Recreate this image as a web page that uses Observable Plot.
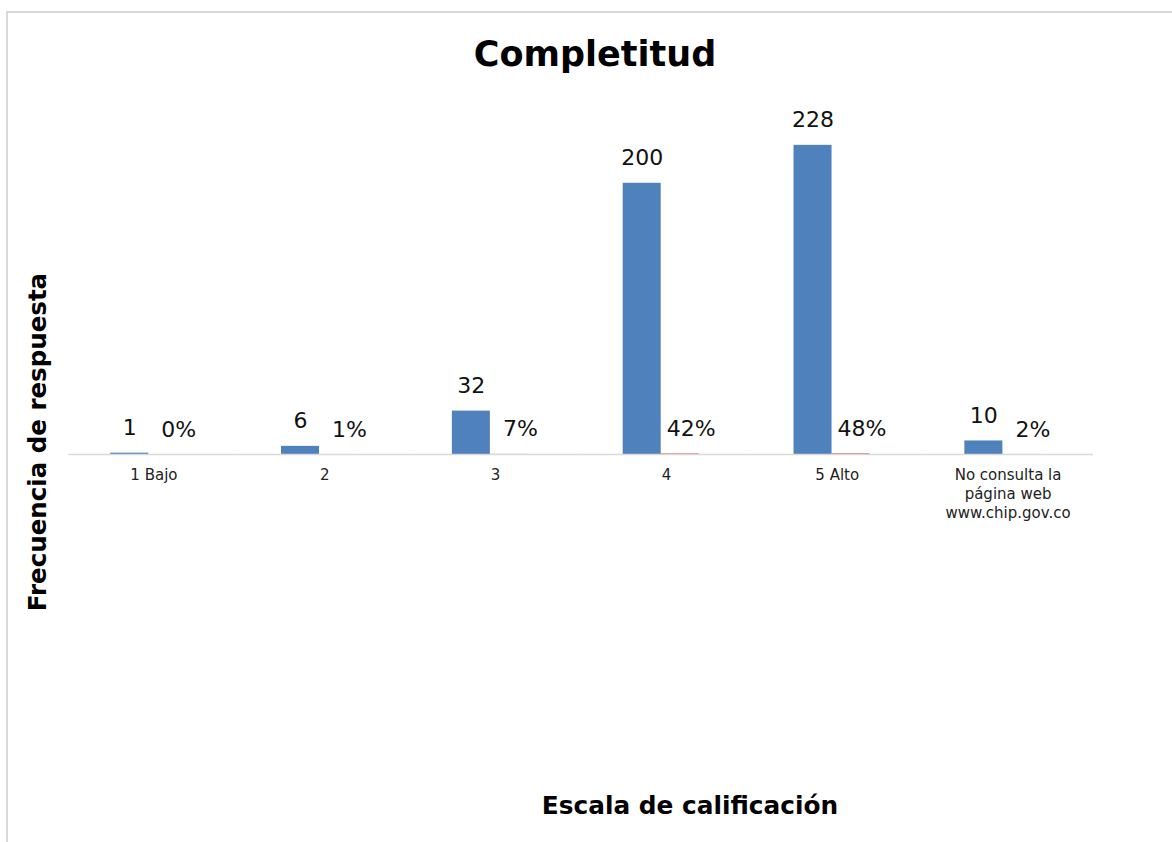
<!DOCTYPE html>
<html>
<head>
<meta charset="utf-8">
<script src="https://cdn.jsdelivr.net/npm/d3@7"></script>
<script src="https://cdn.jsdelivr.net/npm/@observablehq/plot@0.6"></script>
<style>
  body { margin: 0; background: #fff; overflow: hidden; font-family: "DejaVu Sans", sans-serif; }
  #wrap { position: relative; width: 1172px; height: 842px; overflow: hidden; }
  #frame { position: absolute; left: 6px; top: 11px; width: 1300px; height: 1000px; border: 2px solid #d9d9d9; box-sizing: border-box; }
  #chart { position: absolute; left: 0; top: 0; }
  #title { position: absolute; left: 0; width: 1190px; top: 37px; line-height: 1; text-align: center; font-weight: 700; font-size: 35px; color: #000; }
  #ylab { position: absolute; left: 38px; top: 442px; transform: translate(-50%, -50%) rotate(-90deg); white-space: nowrap; font-weight: 700; font-size: 24.5px; color: #000; line-height: 1; }
  #xlab { position: absolute; left: 690px; top: 806px; transform: translate(-50%, -50%); white-space: nowrap; font-weight: 700; font-size: 24.8px; color: #000; line-height: 1; }
</style>
</head>
<body>
<div id="wrap">
  <div id="frame"></div>
  <div id="chart"></div>
  <div id="title">Completitud</div>
  <div id="ylab">Frecuencia de respuesta</div>
  <div id="xlab">Escala de calificación</div>
</div>
<script>
const categories = ["1 Bajo", "2", "3", "4", "5 Alto", "No consulta la página web www.chip.gov.co"];
const tickLabels = ["1 Bajo", "2", "3", "4", "5 Alto", "No consulta la\npágina web\nwww.chip.gov.co"];
const counts = [1, 6, 32, 200, 228, 10];
const percents = [0, 1, 7, 42, 48, 2];
const seriesNames = ["Frecuencia", "Porcentaje"];

const rows = categories.flatMap((c, i) => [
  { cat: c, series: seriesNames[0], value: counts[i], label: String(counts[i]) },
  { cat: c, series: seriesNames[1], value: percents[i] / 100, label: percents[i] + "%" }
]);
const ticks = categories.map((c, i) => ({ cat: c, label: tickLabels[i] }));

const chart = Plot.plot({
  width: 1172,
  height: 842,
  marginTop: 115,
  marginBottom: 388,
  marginLeft: 68,
  marginRight: 79,
  style: { fontFamily: "'DejaVu Sans', sans-serif", background: "transparent", overflow: "visible" },
  fx: { domain: categories, padding: 0, round: false, axis: null, label: null },
  x: { domain: seriesNames, paddingInner: 0, paddingOuter: 1.247, align: 0.445, round: false, axis: null },
  y: { domain: [0, 250], axis: null },
  color: { domain: seriesNames, range: ["#4f81bd", "#c0504d"] },
  marks: [
    Plot.barY(rows, { fx: "cat", x: "series", y: "value", fill: "series" }),
    Plot.ruleY([0], { stroke: "#d9d9d9", strokeWidth: 1.5 }),
    Plot.text(rows.filter(d => d.series === seriesNames[0]), {
      fx: "cat", x: "series", y: "value", text: "label", dy: -25, fontSize: 22, fill: "#111"
    }),
    Plot.text(rows.filter(d => d.series === seriesNames[1]), {
      fx: "cat", x: "series", y: "value", text: "label", dx: 11, dy: -25, fontSize: 22, fill: "#111"
    }),
    Plot.text(ticks, {
      fx: "cat", frameAnchor: "bottom", text: "label", lineAnchor: "top", dy: 12,
      fontSize: 15, lineHeight: 1.27, fill: "#222"
    })
  ]
});
document.getElementById("chart").appendChild(chart);
</script>
</body>
</html>
